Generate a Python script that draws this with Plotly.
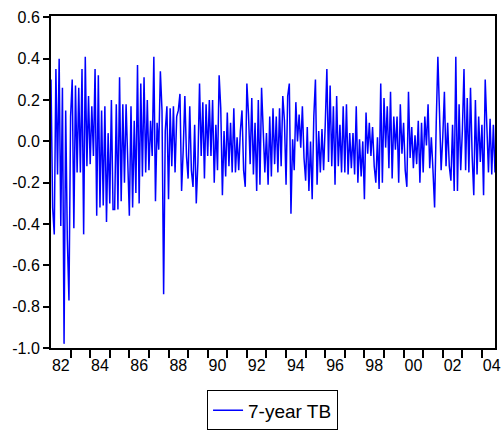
import plotly.graph_objects as go

# Monthly series, Jan 1982 onward (7-year Treasury bond)
seg1 = [0.30, -0.32, -0.45, 0.35, -0.16, 0.40, -0.41, 0.26, -0.98, 0.15, -0.47, -0.77, 0.12,
        0.30, -0.42, 0.27, -0.15, 0.26, -0.15, 0.35, -0.45, 0.41, -0.12, 0.22, -0.11, 0.17,
        -0.07, 0.35, -0.36, 0.32, -0.32, 0.15, -0.31, 0.17, -0.39, 0.04, -0.30, 0.20, -0.33]
seg2 = [-0.33, 0.18, -0.33, 0.31, -0.29, 0.18, -0.20, 0.18, -0.12, -0.36, 0.17, -0.32, 0.10,
        -0.25, 0.37, -0.30, 0.28, -0.17, 0.31, -0.15, 0.20, -0.14, 0.10, -0.07, 0.41, -0.29,
        0.09, -0.04, 0.34, 0.15, -0.74, 0.05, 0.17, -0.28, 0.16, -0.12, 0.17, -0.15, 0.12]
seg3 = [0.15, 0.23, -0.24, -0.04, 0.22, -0.07, -0.18, 0.17, -0.14, -0.22, 0.08, -0.30, -0.10,
        0.28, -0.07, 0.19, -0.18, 0.18, -0.07, 0.20, -0.07, 0.20, -0.20, 0.08, -0.14, 0.32,
        0.16, -0.26, 0.05, -0.17, 0.14, -0.12, 0.09, -0.15, 0.16, -0.15, 0.02, -0.14, 0.05]
seg4 = [0.15, -0.14, -0.22, 0.28, 0.13, -0.11, 0.21, -0.16, 0.09, -0.24, 0.20, -0.21, 0.26,
        0.09, -0.15, 0.04, -0.21, 0.12, -0.17, 0.16, -0.11, 0.12, -0.15, 0.16, -0.12, 0.22,
        0.10, -0.21, 0.22, 0.28, -0.35, 0.01, -0.14, 0.19, -0.00, 0.13, -0.03, 0.17, -0.08]
seg5 = [-0.19, 0.07, -0.24, 0.00, -0.28, 0.12, 0.30, -0.21, 0.05, -0.15, 0.06, -0.14, 0.08,
        0.35, -0.10, 0.27, -0.12, 0.17, -0.21, 0.22, -0.12, 0.08, -0.15, 0.17, -0.15, 0.18,
        -0.16, 0.04, -0.13, 0.04, -0.16, 0.17, -0.20, 0.01, -0.17, 0.00, -0.28, 0.14, -0.06]
seg6 = [0.09, -0.07, 0.07, -0.12, -0.20, 0.02, -0.23, 0.28, -0.20, 0.21, -0.03, 0.17, -0.13,
        0.24, -0.18, 0.12, -0.04, 0.12, -0.20, 0.18, -0.06, 0.09, -0.14, -0.22, 0.24, -0.08,
        0.07, -0.13, 0.03, -0.11, 0.10, -0.20, 0.09, -0.15, 0.12, -0.02, 0.18, -0.13, 0.02]
seg7 = [-0.14, -0.32, 0.09, 0.41, 0.14, -0.14, 0.02, 0.24, -0.12, 0.09, -0.12, -0.19, 0.08,
        -0.24, 0.41, -0.24, 0.18, -0.14, 0.05, 0.35, -0.14, 0.21, -0.15, 0.26, -0.07, -0.26,
        0.20, -0.16, 0.12, -0.10, 0.08, -0.26, 0.30, 0.07, -0.15, 0.11, -0.16, 0.08, -0.15]

values = seg1 + seg2 + seg3 + seg4 + seg5 + seg6 + seg7
start_year = 1982
x_time = [start_year + i / 12 for i in range(len(values))]

year_ticks = list(range(1983, 2005))
label_pos = [y + 0.5 for y in range(1982, 2005, 2)]
label_text = ["82", "84", "86", "88", "90", "92", "94", "96", "98", "00", "02", "04"]
y_ticks = [0.6, 0.4, 0.2, 0.0, -0.2, -0.4, -0.6, -0.8, -1.0]
y_text = ["0.6", "0.4", "0.2", "0.0", "-0.2", "-0.4", "-0.6", "-0.8", "-1.0"]

xr = [start_year, start_year + (len(values) - 1) / 12]

fig = go.Figure()
fig.add_trace(go.Scatter(x=x_time, y=values, mode="lines", name="7-year TB",
                         line=dict(color="#0000FF", width=1.5)))
fig.add_trace(go.Scatter(x=[], y=[], xaxis="x2", showlegend=False, hoverinfo="skip"))

font = dict(family="Liberation Sans, Arial, sans-serif", size=16, color="black")
fig.update_layout(
    width=503, height=431,
    margin=dict(l=51, r=8, t=16, b=83, autoexpand=False),
    paper_bgcolor="white", plot_bgcolor="white",
    font=font,
    showlegend=True,
    legend=dict(x=0.499, xanchor="center", y=-0.128, yanchor="top",
                bordercolor="black", borderwidth=1, font=dict(size=19),
                bgcolor="white", itemwidth=30),
    xaxis=dict(range=xr, tickvals=year_ticks, showticklabels=False,
               ticks="outside", ticklen=8, tickwidth=1.5, tickcolor="black",
               showgrid=False, zeroline=False, showline=True, linecolor="black",
               linewidth=2, mirror=True),
    xaxis2=dict(range=xr, overlaying="x", side="bottom", tickvals=label_pos,
                ticktext=label_text, ticks="outside", ticklen=3,
                tickcolor="rgba(0,0,0,0)", showgrid=False, zeroline=False,
                showline=False, tickfont=font),
    yaxis=dict(range=[-1.0, 0.607], tickvals=y_ticks, ticktext=y_text,
               ticks="outside", ticklen=6, tickwidth=1.5, tickcolor="black",
               showgrid=False, zeroline=False, showline=True, linecolor="black",
               linewidth=2, mirror=True),
)

fig.write_html("out.html")
